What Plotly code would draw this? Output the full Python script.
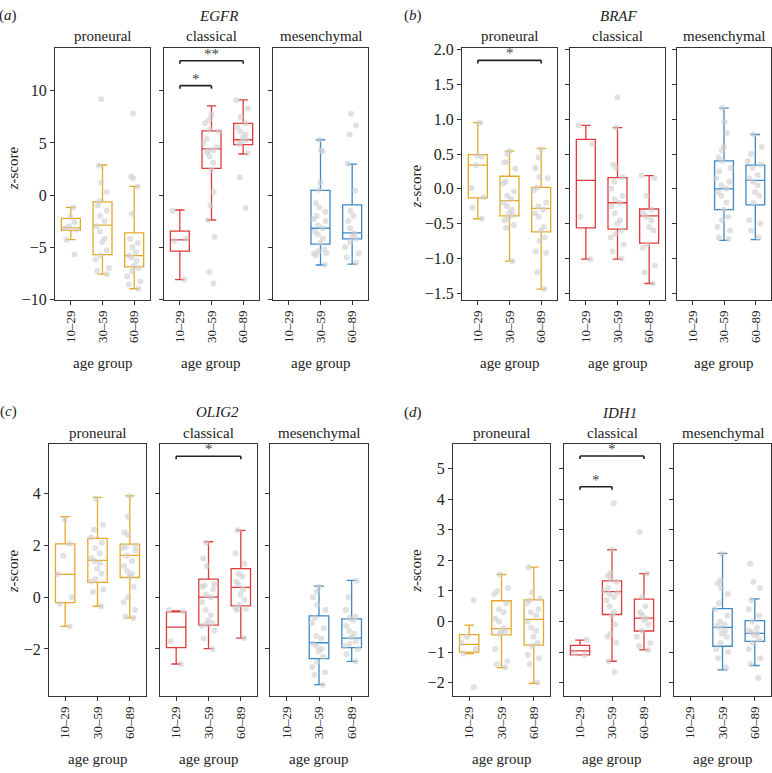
import plotly.graph_objects as go

W, H = 772, 773
FONT = "Liberation Serif, Times New Roman, serif"

AGE_GROUPS = ["10–29", "30–59", "60–89"]
SUBTYPES = ["proneural", "classical", "mesenchymal"]
SUBTYPE_COLORS = ["#E5A92A", "#E03A3D", "#3C88C8"]
GENES = ["EGFR", "BRAF", "OLIG2", "IDH1"]
PANEL_LABELS = ["a", "b", "c", "d"]

# ---------------- EGFR ----------------  [subtype][age group]
EGFR_LOW = [[-4.28, -7.6, -9.0], [-8.12, -2.4, 3.94], [None, -6.72, -6.63]]
EGFR_Q1 = [[-3.4, -5.72, -6.9], [-5.38, 2.56, 4.84], [None, -4.72, -4.22]]
EGFR_MED = [[-3.16, -2.9, -5.81], [-4.31, 4.44, 5.31], [None, -3.19, -3.63]]
EGFR_Q3 = [[-2.25, -0.66, -3.63], [-3.47, 6.16, 6.88], [None, 0.44, -0.94]]
EGFR_HIGH = [[-1.19, 2.88, 0.84], [-1.44, 8.56, 9.13], [None, 5.31, 2.97]]
EGFR_PTS = [
    [[-1.2, -2.1, -2.6, -3.0, -3.2, -3.3, -4.3, -5.7],
     [9.2, 2.8, 1.2, 0.3, -0.6, -1.0, -1.5, -2.0, -2.5, -3.0, -3.5, -4.2, -4.5, -5.3, -5.8, -6.2, -7.0, -7.3, -7.6],
     [7.8, 1.8, 1.6, 0.8, -1.8, -4.2, -4.6, -5.0, -5.5, -5.8, -6.0, -6.3, -6.8, -7.0, -7.3, -7.8, -8.3, -8.6, -9.0]],
    [[-1.5, -4.2, -4.4, -8.1],
     [7.7, 7.2, 6.9, 6.3, 6.1, 5.4, 5.0, 4.6, 4.3, 4.3, 4.1, 3.7, 3.1, 2.4, 0.3, -1.0, -2.4, -4.0, -7.4, -8.5],
     [9.1, 8.3, 7.5, 6.9, 6.5, 6.1, 5.8, 5.5, 5.3, 5.1, 4.9, 4.0, 1.7, -1.25]],
    [[],
     [5.3, 4.3, 4.2, 1.2, 0.5, -0.8, -1.2, -1.6, -2.0, -2.3, -2.5, -2.9, -3.2, -3.5, -3.8, -4.2, -4.6, -5.2, -5.4, -5.6, -5.6, -5.8, -6.7],
     [7.8, 6.7, 5.8, 3.0, 0.4, -1.5, -2.0, -2.5, -3.2, -3.7, -4.0, -4.2, -4.5, -5.0, -5.6, -6.0, -6.5]],
]

# ---------------- BRAF ----------------
BRAF_LOW = [[-0.43, -1.04, -1.44], [-1.01, -1.01, -1.36], [None, -0.74, -0.73]]
BRAF_Q1 = [[-0.13, -0.39, -0.62], [-0.56, -0.58, -0.78], [None, -0.30, -0.23]]
BRAF_MED = [[0.34, -0.17, -0.28], [0.12, -0.20, -0.39], [None, 0.0, 0.12]]
BRAF_Q3 = [[0.49, 0.18, 0.02], [0.71, 0.16, -0.29], [None, 0.40, 0.34]]
BRAF_HIGH = [[0.95, 0.54, 0.58], [0.91, 0.88, 0.19], [None, 1.16, 0.78]]
BRAF_PTS = [
    [[0.95, 0.48, 0.46, 0.34, 0.01, -0.12, -0.27, -0.43],
     [0.54, 0.5, 0.38, 0.38, 0.29, 0.1, 0.08, -0.04, -0.1, -0.15, -0.2, -0.25, -0.3, -0.35, -0.38, -0.43, -0.45, -0.52, -0.56, -1.04],
     [0.57, 0.45, 0.3, 0.17, 0.15, 0.02, -0.02, -0.2, -0.25, -0.3, -0.35, -0.4, -0.55, -0.6, -0.7, -0.75, -0.9, -0.92, -1.2, -1.44]],
    [[0.91, 0.64, -0.4, -1.01],
     [1.31, 0.88, 0.35, 0.3, 0.17, 0.1, 0.0, -0.1, -0.15, -0.2, -0.25, -0.35, -0.45, -0.5, -0.6, -0.65, -0.7, -0.8, -0.9, -1.0],
     [0.19, 0.15, -0.1, -0.3, -0.35, -0.4, -0.45, -0.55, -0.6, -0.8, -0.85, -1.1, -1.2, -1.36]],
    [[],
     [1.16, 0.96, 0.8, 0.6, 0.55, 0.45, 0.4, 0.3, 0.25, 0.15, 0.1, 0.05, 0.0, -0.05, -0.1, -0.2, -0.3, -0.4, -0.45, -0.55, -0.6, -0.7, -0.72],
     [0.78, 0.6, 0.5, 0.4, 0.35, 0.3, 0.2, 0.15, 0.1, 0.05, -0.05, -0.1, -0.2, -0.45, -0.5, -0.6, -0.7]],
]

# ---------------- OLIG2 ----------------
OLIG2_LOW = [[-1.13, -0.35, -0.8], [-2.58, -1.99, -1.58], [None, -3.38, -2.48]]
OLIG2_Q1 = [[-0.21, 0.57, 0.76], [-1.95, -1.08, -0.34], [None, -2.37, -1.95]]
OLIG2_MED = [[0.88, 1.42, 1.61], [-1.16, 0.0, 0.38], [None, -1.76, -1.58]]
OLIG2_Q3 = [[2.06, 2.27, 2.05], [-0.57, 0.7, 1.1], [None, -0.72, -0.84]]
OLIG2_HIGH = [[3.11, 3.85, 3.91], [-0.53, 2.14, 2.58], [None, 0.43, 0.65]]
OLIG2_PTS = [
    [[3.0, 2.06, 1.6, 0.89, 0.0, -0.25, -1.13],
     [3.8, 2.8, 2.6, 2.3, 2.1, 1.9, 1.7, 1.5, 1.4, 1.3, 1.1, 0.9, 0.7, 0.6, 0.3, 0.2, -0.35],
     [3.9, 3.1, 2.5, 2.4, 2.0, 1.95, 1.9, 1.8, 1.6, 1.4, 1.2, 1.0, 0.9, 0.8, 0.4, 0.0, -0.2, -0.5, -0.75, -0.8]],
    [[-0.5, -0.55, -1.7, -2.58],
     [2.1, 1.5, 1.2, 0.5, 0.45, 0.4, 0.3, 0.1, 0.0, -0.2, -0.5, -0.7, -0.9, -1.0, -1.05, -1.1, -1.3, -1.6, -2.0],
     [2.58, 1.7, 1.3, 0.9, 0.8, 0.6, 0.5, 0.3, 0.1, -0.1, -0.3, -0.4, -0.45, -0.5, -1.58]],
    [[],
     [0.4, 0.2, 0.0, -0.3, -0.5, -0.8, -1.0, -1.2, -1.5, -1.6, -1.8, -1.9, -2.0, -2.1, -2.3, -2.5, -2.7, -2.9, -3.0, -3.38],
     [0.63, 0.0, -0.5, -0.75, -0.8, -0.9, -1.1, -1.3, -1.4, -1.55, -1.7, -1.8, -1.9, -2.0, -2.2, -2.48]],
]

# ---------------- IDH1 ----------------
IDH1_LOW = [[-1.05, -1.51, -2.02], [-1.09, -1.3, -0.93], [None, -1.58, -1.44]]
IDH1_Q1 = [[-1.0, -0.44, -0.77], [-1.09, 0.23, -0.31], [None, -0.81, -0.65]]
IDH1_MED = [[-0.75, -0.23, 0.07], [-0.96, 0.98, 0.11], [None, -0.19, -0.39]]
IDH1_Q3 = [[-0.43, 0.68, 0.71], [-0.78, 1.33, 0.73], [None, 0.42, 0.03]]
IDH1_HIGH = [[-0.12, 1.54, 1.78], [-0.61, 2.35, 1.57], [None, 2.23, 0.74]]
IDH1_PTS = [
    [[0.7, -0.5, -0.7, -0.9, -1.05, -2.15],
     [1.54, 1.1, 1.0, 0.9, 0.6, 0.4, 0.3, 0.1, 0.0, -0.2, -0.3, -0.35, -0.4, -0.9, -1.3, -1.4, -1.5],
     [1.78, 0.95, 0.75, 0.7, 0.6, 0.4, 0.3, 0.2, 0.0, -0.2, -0.3, -0.5, -0.7, -0.8, -1.1, -1.2, -1.4, -2.0]],
    [[-0.6, -1.05, -1.1],
     [3.87, 2.35, 1.6, 1.5, 1.4, 1.3, 1.1, 1.0, 0.95, 0.9, 0.8, 0.7, 0.5, 0.3, 0.2, -0.1, -0.4, -0.5, -0.7, -1.3, -1.65],
     [2.92, 1.57, 0.8, 0.5, 0.3, 0.2, 0.1, 0.05, -0.1, -0.3, -0.5, -0.7, -0.8, -0.93]],
    [[],
     [2.2, 1.35, 1.25, 1.1, 0.9, 0.6, 0.4, 0.2, 0.0, -0.1, -0.15, -0.2, -0.3, -0.4, -0.5, -0.7, -0.9, -1.0, -1.2, -1.5],
     [1.9, 1.3, 1.1, 0.7, 0.4, 0.2, 0.0, -0.2, -0.3, -0.35, -0.4, -0.45, -0.6, -0.7, -0.9, -1.2, -1.4, -1.85]],
]

# axis ranges and ticks per gene
Y_RANGES = [[-10.1, 14.1], [-1.6, 2.02], [-3.83, 5.9], [-2.45, 5.8]]
Y_TICKS = [[-10, -5, 0, 5, 10], [-1.5, -1.0, -0.5, 0, 0.5, 1.0, 1.5, 2.0], [-2, 0, 2, 4], [-2, -1, 0, 1, 2, 3, 4, 5]]
Y_TICKFMT = ["", ".1f", "", ""]

# significance brackets: (gene index, subtype index, group from, group to, height, label)
SIG_GENE = [0, 0, 1, 2, 3, 3]
SIG_SUBTYPE = [1, 1, 0, 1, 1, 1]
SIG_FROM = [0, 0, 0, 0, 0, 0]
SIG_TO = [1, 2, 2, 2, 1, 2]
SIG_Y = [10.5, 12.9, 1.845, 5.44, 4.41, 5.42]
SIG_TEXT = ["*", "**", "*", "*", "*", "*"]

STATS = [
    (EGFR_LOW, EGFR_Q1, EGFR_MED, EGFR_Q3, EGFR_HIGH, EGFR_PTS),
    (BRAF_LOW, BRAF_Q1, BRAF_MED, BRAF_Q3, BRAF_HIGH, BRAF_PTS),
    (OLIG2_LOW, OLIG2_Q1, OLIG2_MED, OLIG2_Q3, OLIG2_HIGH, OLIG2_PTS),
    (IDH1_LOW, IDH1_Q1, IDH1_MED, IDH1_Q3, IDH1_HIGH, IDH1_PTS),
]

# ---------------- layout geometry (pixels) ----------------
PANEL_X_PX = [
    [(55, 150), (164, 259), (273, 368)],
    [(462, 557), (570, 665), (677, 771)],
    [(49, 146), (160, 257), (270, 368)],
    [(453, 550), (564, 660), (674, 771)],
]
PANEL_Y_PX = [(42, 299), (42, 299), (446, 703), (446, 703)]
HEAD_PX = [(9, 218), (9, 618), (413, 217), (414, 619)]   # (y, gene x)
LABEL_X_PX = [8, 413, 8, 413]
SUBTITLE_Y_PX = [30, 30, 434, 434]
ZLABEL_PX = [(12.5, 164), (416, 183), (12.5, 575), (416, 575)]


def px(x):
    return x / W


def py(y):
    return 1 - y / H


fig = go.Figure()
layout = dict(
    width=W, height=H, margin=dict(l=0, r=0, t=0, b=0),
    paper_bgcolor="white", plot_bgcolor="white",
    font=dict(family=FONT, size=14, color="#222"),
    showlegend=False, boxmode="overlay",
)
annotations = []
shapes = []

for p in range(4):
    low, q1, med, q3, high, pts = STATS[p]
    for s in range(3):
        k = p * 3 + s + 1
        xa, ya = f"x{k}", f"y{k}"
        color = SUBTYPE_COLORS[s]
        for g in range(3):
            if q1[s][g] is None:
                continue
            fig.add_trace(go.Box(
                x=[AGE_GROUPS[g]], q1=[q1[s][g]], median=[med[s][g]], q3=[q3[s][g]],
                lowerfence=[low[s][g]], upperfence=[high[s][g]],
                xaxis=xa, yaxis=ya, boxpoints=False, width=0.6, whiskerwidth=0.5,
                line=dict(color=color, width=1.3), fillcolor="rgba(0,0,0,0)",
                hoverinfo="skip",
            ))
        for g in range(3):
            vals = pts[s][g]
            if not vals:
                continue
            fig.add_trace(go.Box(
                x=[AGE_GROUPS[g]] * len(vals), y=vals, xaxis=xa, yaxis=ya,
                boxpoints="all", jitter=0.9, pointpos=0, width=0.6,
                marker=dict(color="rgba(205,205,205,0.6)", size=6, line=dict(width=0)),
                line=dict(width=0, color="rgba(0,0,0,0)"), fillcolor="rgba(0,0,0,0)",
                hoverinfo="skip",
            ))

        x0, x1 = PANEL_X_PX[p][s]
        y0, y1 = PANEL_Y_PX[p]
        layout[f"xaxis{k}"] = dict(
            domain=[px(x0), px(x1)], anchor=ya, type="category",
            categoryorder="array", categoryarray=AGE_GROUPS, range=[-0.5, 2.5],
            tickmode="array", tickvals=AGE_GROUPS, ticktext=AGE_GROUPS,
            tickangle=-90, ticks="outside", ticklen=4, tickwidth=1, tickcolor="#333",
            tickfont=dict(size=13, family=FONT, color="#222"),
            showline=True, linecolor="#333", linewidth=1, mirror=True,
            showgrid=False, zeroline=False, fixedrange=True,
        )
        layout[f"yaxis{k}"] = dict(
            domain=[py(y1), py(y0)], anchor=xa, range=Y_RANGES[p],
            tickmode="array", tickvals=Y_TICKS[p], tickformat=Y_TICKFMT[p],
            ticks="outside", ticklen=4, tickwidth=1, tickcolor="#333",
            showticklabels=(s == 0),
            tickfont=dict(size=16, family=FONT, color="#222"),
            showline=True, linecolor="#333", linewidth=1, mirror=True,
            showgrid=False, zeroline=False, fixedrange=True,
        )
        # subtype title
        annotations.append(dict(
            text=SUBTYPES[s], xref="paper", yref="paper",
            x=px((x0 + x1) / 2), y=py(SUBTITLE_Y_PX[p]),
            xanchor="center", yanchor="middle", showarrow=False,
            font=dict(size=15, family=FONT, color="#222"),
        ))
        # x axis title
        annotations.append(dict(
            text="age group", xref="paper", yref="paper",
            x=px((x0 + x1) / 2), y=py(y1 + 64),
            xanchor="center", yanchor="middle", showarrow=False,
            font=dict(size=15, family=FONT, color="#222"),
        ))

    hy, gx = HEAD_PX[p]
    annotations.append(dict(
        text=f"<i>{GENES[p]}</i>", xref="paper", yref="paper",
        x=px(gx), y=py(hy), xanchor="center", yanchor="middle", showarrow=False,
        font=dict(size=15, family=FONT, color="#222"),
    ))
    annotations.append(dict(
        text=f"(<i>{PANEL_LABELS[p]}</i>)", xref="paper", yref="paper",
        x=px(LABEL_X_PX[p]), y=py(hy), xanchor="center", yanchor="middle", showarrow=False,
        font=dict(size=15, family=FONT, color="#222"),
    ))
    zx, zy = ZLABEL_PX[p]
    annotations.append(dict(
        text="<i>z</i>-score", xref="paper", yref="paper",
        x=px(zx), y=py(zy), xanchor="center", yanchor="middle", showarrow=False,
        textangle=-90, font=dict(size=15, family=FONT, color="#222"),
    ))

# significance brackets
for i in range(len(SIG_Y)):
    p, s = SIG_GENE[i], SIG_SUBTYPE[i]
    k = p * 3 + s + 1
    lo, hi = Y_RANGES[p]
    tip = (hi - lo) * 0.012
    ya = SIG_Y[i]
    xa0, xa1 = SIG_FROM[i], SIG_TO[i]
    for (ax0, ay0, ax1, ay1) in [(xa0, ya, xa1, ya), (xa0, ya - tip, xa0, ya), (xa1, ya - tip, xa1, ya)]:
        shapes.append(dict(type="line", xref=f"x{k}", yref=f"y{k}",
                           x0=ax0, y0=ay0, x1=ax1, y1=ay1,
                           line=dict(color="#222", width=1.6)))
    annotations.append(dict(
        text=SIG_TEXT[i], xref=f"x{k}", yref=f"y{k}",
        x=(xa0 + xa1) / 2, y=ya, xanchor="center", yanchor="bottom",
        yshift=-3, showarrow=False, font=dict(size=15, family=FONT, color="#444"),
    ))

layout["annotations"] = annotations
layout["shapes"] = shapes
fig.update_layout(**layout)
fig.write_html(
    "out.html",
    config={"displayModeBar": False, "staticPlot": True},
    post_script="document.body.style.margin='0';document.body.style.padding='0';document.body.style.overflow='hidden';",
)
